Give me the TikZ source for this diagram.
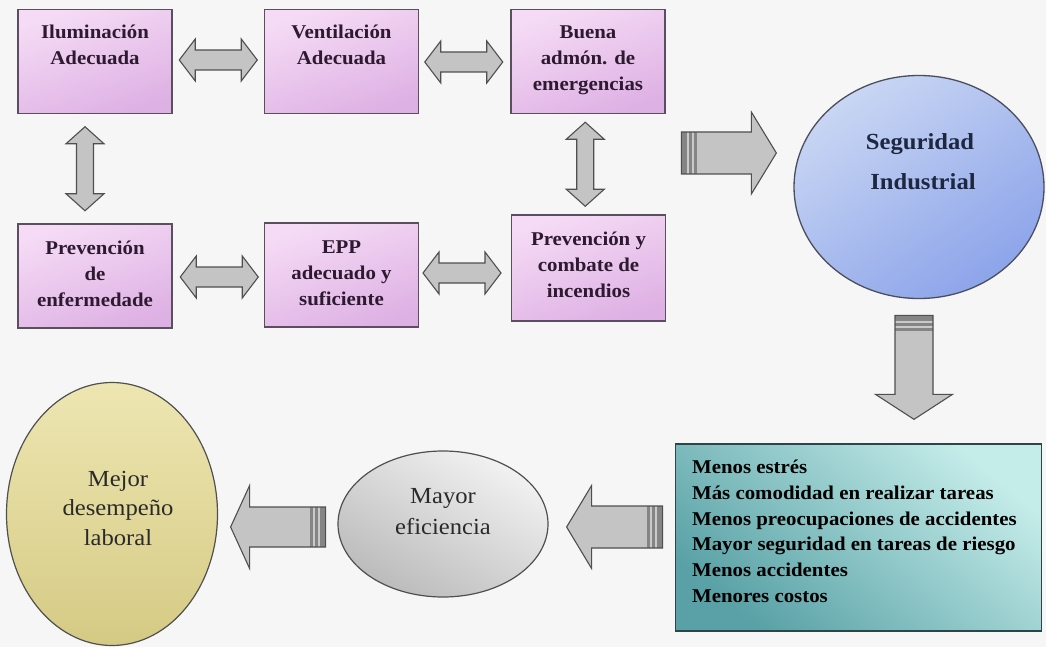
\documentclass[tikz,border=0pt]{standalone}
\usepackage{fontspec}
\newfontfamily\dfont{Liberation Serif}[FakeStretch=1.07]
\usetikzlibrary{shapes.geometric,calc}
\definecolor{bg}{HTML}{F6F6F6}
\definecolor{pinktop}{HTML}{F5DBF5}
\definecolor{pinkbot}{HTML}{DEB1E4}
\definecolor{boxline}{HTML}{5B4E5E}
\definecolor{btext}{HTML}{2E1A30}
\definecolor{arrfill}{HTML}{C4C4C4}
\definecolor{arrline}{HTML}{4F4F4F}
\definecolor{stripedark}{HTML}{858585}
\definecolor{stripelight}{HTML}{CACACA}
\definecolor{segtop}{HTML}{C9D6F3}
\definecolor{segbot}{HTML}{8CA4EA}
\definecolor{segline}{HTML}{4A4E5E}
\definecolor{segtext}{HTML}{1E2740}
\definecolor{tealtop}{HTML}{C4ECE9}
\definecolor{tealbot}{HTML}{59A1A6}
\definecolor{tealline}{HTML}{2E4446}
\definecolor{greytop}{HTML}{F2F2F2}
\definecolor{greybot}{HTML}{BBBBBB}
\definecolor{khakitop}{HTML}{EEE6B2}
\definecolor{khakibot}{HTML}{D5CA84}
\definecolor{darktext}{HTML}{2A2A2A}
\tikzset{
  pbox/.style={draw=boxline, line width=1.3pt, top color=pinktop, bottom color=pinkbot,
    shading angle=20, minimum width=154pt, minimum height=104pt, inner sep=0pt},
  btxt/.style={font=\dfont\bfseries\fontsize{19.5}{26}\selectfont, align=center,
    anchor=north, inner sep=0pt, text=btext},
  darrsty/.style={draw=arrline, line width=1.1pt, fill=arrfill, line join=miter},
  bigsty/.style={draw=arrline, line width=1.1pt, fill=arrfill, line join=miter},
  hdarr/.pic={\draw[darrsty] (-39,0) -- (-23,-21) -- (-23,-10) -- (23,-10) -- (23,-21)
     -- (39,0) -- (23,21) -- (23,10) -- (-23,10) -- (-23,21) -- cycle;},
  vdarr/.pic={\draw[darrsty] (0,-42) -- (19,-25) -- (8.5,-25) -- (8.5,25) -- (19,25)
     -- (0,42) -- (-19,25) -- (-8.5,25) -- (-8.5,-25) -- (-19,-25) -- cycle;},
  ovaltxt/.style={font=\dfont\fontsize{23}{30}\selectfont, align=center, inner sep=0pt}
}
% #1 tip, #2 rotation, #3 length, #4 head length, #5 body half width, #6 head half width
\newcommand\bigarrow[6]{%
  \begin{scope}[shift={#1}, rotate=#2]
    \fill[arrfill] (0,0) -- (-#4,-#6) -- (-#4,-#5) -- (-#3,-#5) -- (-#3,#5) -- (-#4,#5) -- (-#4,#6) -- cycle;
    \fill[stripedark] (-#3,-#5) rectangle (-#3+16,#5);
    \fill[stripelight] (-#3+5.5,-#5) rectangle (-#3+7.5,#5);
    \fill[stripelight] (-#3+11,-#5) rectangle (-#3+12.5,#5);
    \draw[bigsty, fill=none] (0,0) -- (-#4,-#6) -- (-#4,-#5) -- (-#3,-#5) -- (-#3,#5) -- (-#4,#5) -- (-#4,#6) -- cycle;
  \end{scope}}
\begin{document}
\begin{tikzpicture}[x=1pt,y=-1pt]
\useasboundingbox (0,0) rectangle (1046,647);
\fill[bg] (0,0) rectangle (1046,647);

% pink boxes
\node[pbox] (b1) at (95,61.5) {};
\node[pbox] (b2) at (341.5,61.5) {};
\node[pbox] (b3) at (588,61.5) {};
\node[pbox] (b4) at (95,276) {};
\node[pbox] (b5) at (341.5,275) {};
\node[pbox, minimum height=106pt] (b6) at (588.5,268) {};

\node[btxt] (t1) at ($(b1.north)+(0,14)$) {\rule{0pt}{15pt}Iluminación\\Adecuada};
\node[btxt] (t2) at ($(b2.north)+(0,14)$) {\rule{0pt}{15pt}Ventilación\\Adecuada};
\node[btxt] (t3) at ($(b3.north)+(0,14)$) {\rule{0pt}{15pt}Buena\\admón. de\\emergencias};
\node[btxt] (t4) at ($(b4.north)+(0,16)$) {\rule{0pt}{15pt}Prevención\\de\\enfermedade};
\node[btxt] (t5) at ($(b5.north)+(0,16)$) {\rule{0pt}{15pt}EPP\\adecuado y\\suficiente};
\node[btxt] (t6) at ($(b6.north)+(0,16)$) {\rule{0pt}{15pt}Prevención y\\combate de\\incendios};

% double arrows between boxes
\pic at ($(b1.east)!0.5!(b2.west)+(0,-1.5)$) {hdarr};
\pic at ($(b2.east)!0.5!(b3.west)+(-1,0.5)$) {hdarr};
\pic at ($(b4.east)!0.5!(b5.west)+(1,1.5)$) {hdarr};
\pic at ($(b5.east)!0.5!(b6.west)+(-3,1.5)$) {hdarr};
\pic at ($(b1.south)!0.5!(b4.north)+(-10,0)$) {vdarr};
\pic at ($(b3.south)!0.5!(b6.north)+(-3,0)$) {vdarr};

% Seguridad Industrial
\node[ellipse, draw=segline, line width=1.3pt, top color=segtop, bottom color=segbot,
  shading angle=35, minimum width=250pt, minimum height=223pt, inner sep=0pt] (seg) at (919,187) {};
\node[font=\dfont\bfseries\fontsize{23}{40}\selectfont, text=segtext, align=center, inner sep=0pt]
  (segt) at ($(seg.center)+(1,-25)$) {Seguridad\\\hspace*{6pt}Industrial};

% teal box
\node[draw=tealline, line width=1.3pt, top color=tealtop, bottom color=tealbot, shading angle=-40,
  minimum width=366pt, minimum height=187pt, inner sep=0pt] (ben) at (858.5,537.5) {};
\node[font=\dfont\bfseries\fontsize{19.5}{25.8}\selectfont, align=left, anchor=north west,
  inner sep=0pt, text=black] (bent) at ($(ben.north west)+(17,15)$)
  {\rule{0pt}{15pt}Menos estrés\\Más comodidad en realizar tareas\\Menos preocupaciones de accidentes\\
   Mayor seguridad en tareas de riesgo\\Menos accidentes\\Menores costos};

% Mayor eficiencia
\node[ellipse, draw=arrline, line width=1.2pt, top color=greytop, bottom color=greybot,
  shading angle=-30, minimum width=210pt, minimum height=146pt, inner sep=0pt] (may) at (443,524) {};
\node[ovaltxt, text=darktext, font=\dfont\fontsize{23}{31}\selectfont] (mayt) at ($(may.center)+(0,-12)$) {Mayor\\eficiencia};

% Mejor desempeño laboral
\node[ellipse, draw=arrline, line width=1.2pt, top color=khakitop, bottom color=khakibot,
  minimum width=211pt, minimum height=263pt, inner sep=0pt] (mej) at (112,514) {};
\node[ovaltxt, text=darktext, font=\dfont\fontsize{23}{29.5}\selectfont] (mejt) at ($(mej.center)+(6,-6)$) {Mejor\\desempeño\\laboral};

% big striped arrows
\bigarrow{($(seg.west)+(-17,-34)$)}{0}{95}{25}{21}{41}
\bigarrow{($(seg.south |- ben.north)+(-5,-24)$)}{-90}{104}{25}{19}{38.5}
\bigarrow{($(may.east)+(18,3)$)}{180}{96}{25}{21}{41.5}
\bigarrow{($(mej.east)+(12.5,13)$)}{180}{95}{19}{20}{41.5}
\end{tikzpicture}
\end{document}
